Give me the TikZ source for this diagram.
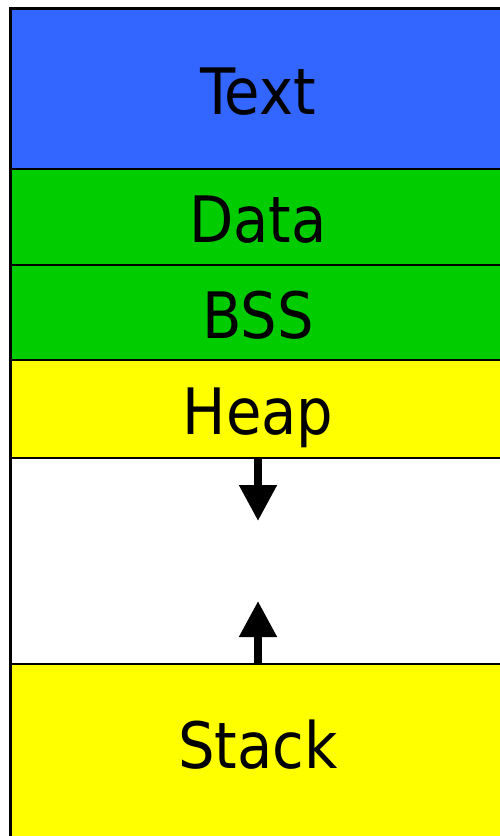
\documentclass[tikz,border=0pt]{standalone}
\usepackage{fontspec}
\setmainfont{DejaVu Sans Condensed}
\usetikzlibrary{arrows.meta}
\definecolor{segblue}{HTML}{3366FF}
\definecolor{seggreen}{HTML}{00CC00}
\definecolor{segyellow}{HTML}{FFFF00}
\tikzset{
  seg/.style={draw=black, line width=2pt, rectangle, inner sep=0pt, outer sep=0pt,
              minimum width=500pt, anchor=north west},
  seglabel/.style={anchor=base, font=\fontsize{64}{64}\selectfont, inner sep=0pt},
  growarrow/.style={line width=8pt, -{Triangle[width=36pt, length=36pt]}}
}
\begin{document}
\begin{tikzpicture}[x=1pt, y=1pt]
  \useasboundingbox (0,0) rectangle (499,-836);
  % memory segments, top to bottom
  \node[seg, fill=segblue,   minimum height=161pt] (text)  at (10,-8)   {};
  \node[seg, fill=seggreen,  minimum height=96pt]  (data)  at (10,-169) {};
  \node[seg, fill=seggreen,  minimum height=95pt]  (bss)   at (10,-265) {};
  \node[seg, fill=segyellow, minimum height=98pt]  (heap)  at (10,-360) {};
  \node[seg, fill=white,     minimum height=206pt] (gap)   at (10,-458) {};
  \node[seg, fill=segyellow, minimum height=190pt] (stack) at (10,-664) {};
  % heavier outer border
  \draw[line width=3pt] (stack.south west) -- (text.north west) -- (text.north east);
  % labels
  \node[seglabel] (ltext)  at (258,-114) {Text};
  \node[seglabel] (ldata)  at (258,-242) {Data};
  \node[seglabel] (lbss)   at (258,-338) {BSS};
  \node[seglabel] (lheap)  at (258,-434) {Heap};
  \node[seglabel] (lstack) at (258,-768) {Stack};
  % growth directions
  \coordinate (heaptip)  at (258,-521);
  \coordinate (stacktip) at (258,-601);
  \draw[growarrow] (heap.south -| heaptip) -- (heaptip);
  \draw[growarrow] (stack.north -| stacktip) -- (stacktip);
\end{tikzpicture}
\end{document}
